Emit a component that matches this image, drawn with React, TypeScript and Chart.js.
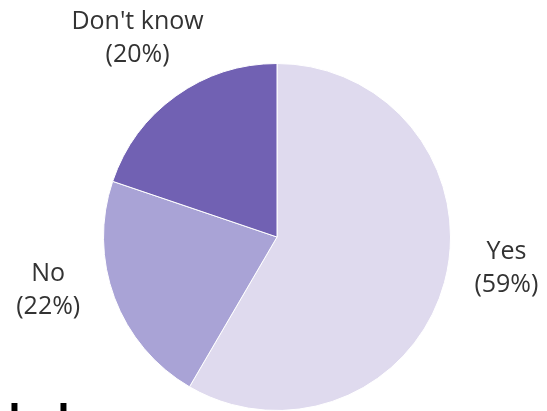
import React, { useEffect, useRef } from 'react';
import { Chart, ArcElement, PieController, Plugin } from 'chart.js';

Chart.register(ArcElement, PieController);

const categories = ['Yes', 'No', "Don't know"];
const values = [59, 22, 20];
const shownPercents = ['59%', '22%', '20%'];

const sliceColors = ['#dfdaee', '#a9a3d6', '#7161b3'];
// small nudges so labels sit where the original's best-fit put them
const labelNudge = [
    { dx: 5, dy: -30 },
    { dx: -11, dy: -29 },
    { dx: -4, dy: -10 },
];

const outsideLabels: Plugin<'pie'> = {
    id: 'outsideLabels',
    afterDraw(chart) {
        const { ctx } = chart;
        const meta = chart.getDatasetMeta(0);
        ctx.save();
        ctx.font = '25px "Open Sans", sans-serif';
        ctx.fillStyle = '#333333';
        ctx.textAlign = 'center';
        ctx.textBaseline = 'middle';
        meta.data.forEach((el: any, i) => {
            const mid = (el.startAngle + el.endAngle) / 2;
            const dist = el.outerRadius * 1.34;
            const x = el.x + Math.cos(mid) * dist + labelNudge[i].dx;
            const y = el.y + Math.sin(mid) * dist + labelNudge[i].dy;
            ctx.fillText(categories[i], x, y - 16);
            ctx.fillText('(' + shownPercents[i] + ')', x, y + 17);
        });
        ctx.restore();
    },
};

const PieChart: React.FC = () => {
    const canvasRef = useRef<HTMLCanvasElement>(null);

    useEffect(() => {
        if (!canvasRef.current) return;
        const chart = new Chart(canvasRef.current, {
            type: 'pie',
            data: {
                labels: categories,
                datasets: [{
                    data: values,
                    backgroundColor: sliceColors,
                    borderColor: '#ffffff',
                    borderWidth: 1,
                    hoverOffset: 0,
                }],
            },
            options: {
                responsive: false,
                animation: false,
                layout: { padding: { top: 63, bottom: 0, left: 7, right: 0 } },
                plugins: {
                    legend: { display: false },
                    tooltip: { enabled: false },
                },
            },
            plugins: [outsideLabels],
        });
        return () => chart.destroy();
    }, []);

    return <canvas ref={canvasRef} width={547} height={411} style={{ position: 'absolute', left: 0, top: 0 }} />;
};

export default function App() {
    return (
        <div style={{ position: 'fixed', left: 0, top: 0, width: 547, height: 411, overflow: 'hidden', background: '#fff' }}>
            <PieChart />
            {/* fragment of a heading cut off at the bottom of the original */}
            <div style={{
                position: 'absolute', left: -31, top: 390, fontFamily: '"Open Sans", sans-serif',
                fontWeight: 700, fontSize: 40, lineHeight: '56px', color: '#000',
            }}>nded</div>
        </div>
    );
}
